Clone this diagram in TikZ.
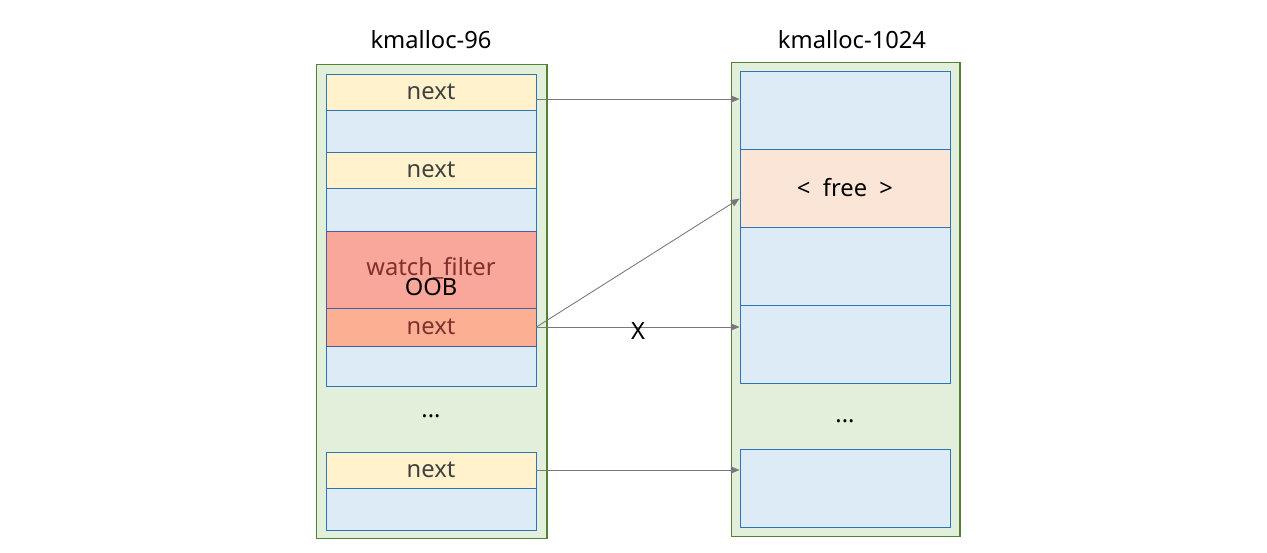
\documentclass[tikz,border=0pt]{standalone}
\usepackage{fontspec}
\setmainfont{Noto Sans}
\usetikzlibrary{arrows.meta}

\tikzset{
  cache/.style={draw=cacheEdge, fill=cacheFill, line width=0.6pt, minimum width=#1, inner sep=0pt},
  slot/.style={draw=slotEdge, fill=slotFill, line width=0.5pt, minimum width=4.2cm, inner sep=0pt, text=textGray},
  nextslot/.style={slot, fill=nextFill},
  link/.style={draw=arrowGray, line width=0.5pt, -{Triangle[length=5pt,width=4pt]}},
}

\begin{document}
\begin{tikzpicture}[x=0.02cm, y=-0.02cm, font=\fontsize{13.5}{16}\selectfont]
     % Define colors
        \definecolor{cacheFill}{RGB}{226, 239, 218} % Light Green
        \definecolor{cacheEdge}{RGB}{84, 130, 53}   % Dark Green
        \definecolor{slotFill}{RGB}{221, 235, 247}  % Light Blue
        \definecolor{slotEdge}{RGB}{46, 117, 182}   % Blue
        \definecolor{nextFill}{RGB}{255, 242, 204}  % Light Yellow
        \definecolor{freeFill}{RGB}{251, 229, 214}  % Light Orange
        \definecolor{oobFill}{RGB}{249, 167, 154}   % Salmon
        \definecolor{oobNext}{RGB}{251, 176, 148}   % Light Salmon
        \definecolor{oobEdge}{RGB}{72, 92, 160}     % Dark Blue
        \definecolor{oobText}{RGB}{128, 48, 44}     % Dark Red
        \definecolor{textGray}{RGB}{64, 64, 64}
        \definecolor{arrowGray}{RGB}{120, 120, 120}

        \useasboundingbox (0,0) rectangle (1267,552);

        % Cache titles
        \node (title96) at (431,40) {kmalloc-96};
        \node (title1024) at (852,40) {kmalloc-1024};

        % Cache containers
        \node[cache=4.62cm, minimum height=9.5cm] (k96) at (431.5,301.5) {};
        \node[cache=4.58cm, minimum height=9.5cm] (k1024) at (845.5,299.5) {};

        % kmalloc-96 slots
        \node[nextslot, minimum height=0.72cm] (a1) at (431,92) {next};
        \node[slot, minimum height=0.84cm] (a2) at (431,131) {};
        \node[nextslot, minimum height=0.72cm] (a3) at (431,170) {next};
        \node[slot, minimum height=0.86cm] (a4) at (431,209.5) {};
        \node[slot, minimum height=0.8cm] (a7) at (431,366) {};
        \node (adots) at (431,416) {...};
        \node[nextslot, minimum height=0.72cm] (a8) at (431,470) {next};
        \node[slot, minimum height=0.84cm] (a9) at (431,509) {};

        % Overflowing watch_filter object
        \node[slot, draw=oobEdge, fill=oobFill, text=oobText, minimum height=1.54cm] (wf) at (431,269.5) {};
        \node[slot, draw=oobEdge, fill=oobNext, text=oobText, minimum height=0.76cm] (wfnext) at (431,327) {next};
        \node[text=oobText] (wflabel) at (431,268) {watch\_filter};
        \node[text=black] (ooblabel) at (431,287) {OOB};

        % kmalloc-1024 slots
        \node[slot, minimum height=1.56cm] (b1) at (845,110) {};
        \node[slot, fill=freeFill, text=black, minimum height=1.56cm] (b2) at (845,188) {<\ \ free\ \ >};
        \node[slot, minimum height=1.56cm] (b3) at (845,266) {};
        \node[slot, minimum height=1.56cm] (b4) at (845,344) {};
        \node (bdots) at (845,421) {...};
        \node[slot, minimum height=1.56cm] (b5) at (845,488) {};

        % Freelist pointers
        \draw[link] ([yshift=-4]a1.east) -- ([yshift=-4]a1.east -| b1.west);
        \draw[link] (wfnext.east) -- ([yshift=-6]b2.west);
        \draw[link] (wfnext.east) -- (wfnext.east -| b4.west)
            node[midway, below=-6pt, text=black] (xmark) {X};
        \draw[link] (a8.east) -- (a8.east -| b5.west);
    \end{tikzpicture}
\end{document}
